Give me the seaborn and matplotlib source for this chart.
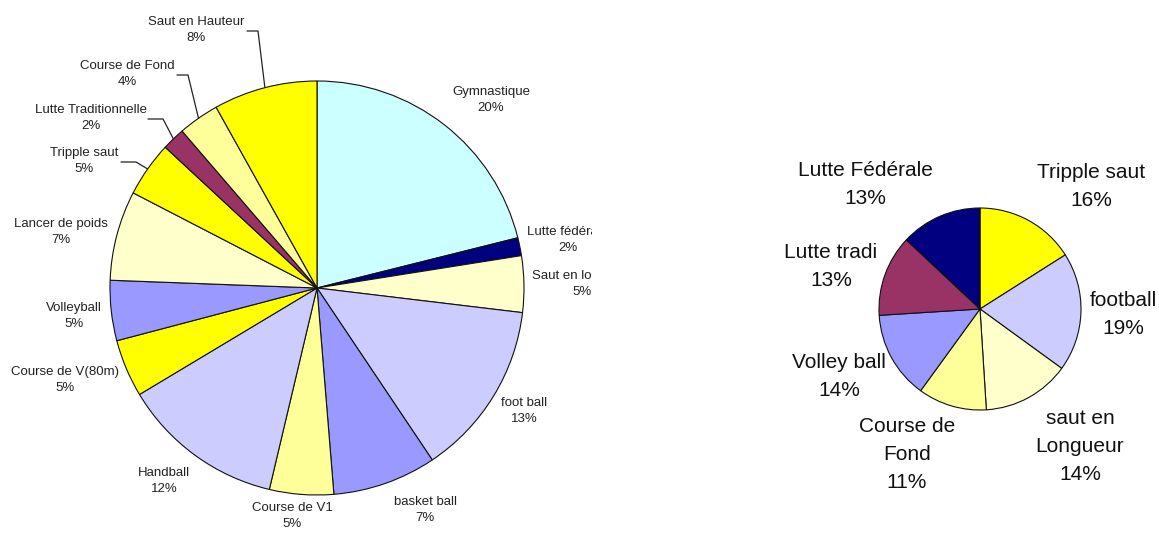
import numpy as np
import seaborn as sns
import matplotlib.pyplot as plt
from matplotlib.transforms import Bbox, TransformedBbox

# left pie: sports, clockwise from 12 o'clock (shares)
sports_l = ['Gymnastique', 'Lutte fédérale', 'Saut en longueur', 'foot ball',
            'basket ball', 'Course de V1', 'Handball', 'Course de V(80m)',
            'Volleyball', 'Lancer de poids', 'Tripple saut',
            'Lutte Traditionnelle', 'Course de Fond', 'Saut en Hauteur']
shares_l = [21.1, 1.4, 4.4, 13.7, 8.1, 5.0, 12.7, 4.5, 4.7, 7.0, 4.3, 1.8, 3.2, 8.1]
pct_l = ['20%', '2%', '5%', '13%', '7%', '5%', '12%', '5%', '5%', '7%', '5%',
         '2%', '4%', '8%']
colors_l = ['#CCFFFF', '#000080', '#FFFFCC', '#CCCCFF', '#9999FF', '#FFFF99',
            '#CCCCFF', '#FFFF00', '#9999FF', '#FFFFCC', '#FFFF00', '#993366',
            '#FFFF99', '#FFFF00']

# right pie
sports_r = ['Tripple saut', 'football', 'saut en\nLongueur', 'Course de\nFond',
            'Volley ball', 'Lutte tradi', 'Lutte Fédérale']
shares_r = [16, 19, 14, 11, 14, 13, 13]
colors_r = ['#FFFF00', '#CCCCFF', '#FFFFCC', '#FFFF99', '#9999FF', '#993366',
            '#000080']

# label layout (pixels, y from top)
pos_l = [(491, 100), (568, 240), (582, 284), (524, 411), (425, 510),
         (292, 516), (164, 481), (65, 380), (74, 316), (61, 232), (84, 161),
         (91, 118), (127, 74), (196, 30)]
# leader lines: (start x, elbow x) for labels that have one
leaders = {10: (121, 136), 11: (148, 163), 12: (177, 188), 13: (247, 258)}
pos_r = [(1091, 187), (1123, 314), (1080, 447), (907, 455), (839, 377),
         (831, 267), (865, 184)]

sns.set_theme(style='white')
plt.rcParams['font.family'] = ['Liberation Sans', 'DejaVu Sans']

fig = plt.figure(figsize=(11.59, 5.34), dpi=100)
ax = fig.add_axes([0, 0, 1, 1])

c_l, r_l = (317, 288), 207
c_r, r_r = (980, 309), 101

wedges_l, _ = ax.pie(shares_l, colors=colors_l, center=c_l, radius=r_l,
                     startangle=-90, counterclock=True,
                     wedgeprops=dict(edgecolor='#111111', linewidth=0.8))
ax.pie(shares_r, colors=colors_r, center=c_r, radius=r_r,
       startangle=-90, counterclock=True,
       wedgeprops=dict(edgecolor='#111111', linewidth=0.8))

ax.set_xlim(0, 1159)
ax.set_ylim(534, 0)
ax.set_aspect('equal')
ax.axis('off')

clip = TransformedBbox(Bbox([[0, 0], [592, 534]]), ax.transData)
for i, (name, pct) in enumerate(zip(sports_l, pct_l)):
    x, y = pos_l[i]
    t = ax.text(x, y, f'{name}\n{pct}', ha='center', va='center',
                fontsize=9.5, color='#222222', linespacing=1.5)
    t.set_clip_box(clip)
    t.set_clip_on(True)
    if i in leaders:
        x0, x1 = leaders[i]
        w = wedges_l[i]
        mid = np.deg2rad((w.theta1 + w.theta2) / 2)
        ex = c_l[0] + r_l * np.cos(mid)
        ey = c_l[1] + r_l * np.sin(mid)
        ax.plot([x0, x1, ex], [y + 1, y + 1, ey], color='#222222', lw=0.9)

for name, share, (x, y) in zip(sports_r, shares_r, pos_r):
    ax.text(x, y, f'{name}\n{share}%', ha='center', va='center',
            fontsize=15, color='#111111', linespacing=1.6)

fig.savefig('out.png', dpi=100, facecolor='white')
